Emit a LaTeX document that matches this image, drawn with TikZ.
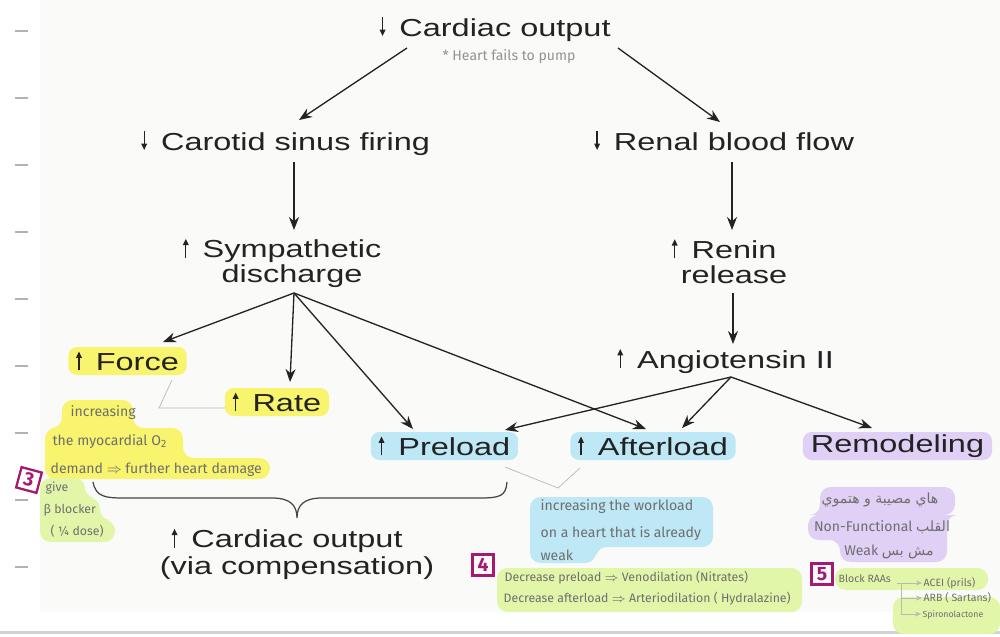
\documentclass[tikz,border=0pt]{standalone}
\usepackage{fontspec}
\usetikzlibrary{arrows.meta,positioning,calc}
\TeXXeTstate=1
\newfontfamily\bookfont{Liberation Sans}[FakeStretch=1.32]
\newfontfamily\handfont{Fira Sans}
\newfontfamily\arabicfont[Script=Arabic]{DejaVu Sans}
\definecolor{ink}{RGB}{35,35,35}
\definecolor{pencil}{RGB}{110,110,110}
\definecolor{hlyellow}{RGB}{248,244,110}
\definecolor{hlblue}{RGB}{190,232,246}
\definecolor{hlpurple}{RGB}{224,208,246}
\definecolor{hlgreen}{RGB}{226,246,170}
\definecolor{marker}{RGB}{165,25,115}
\definecolor{paper}{RGB}{250,250,249}
% small up / down arrows as printed in the chart
\newcommand\upar{\tikz[baseline=0pt,x=1cm,y=1cm]\draw[ink,line width=0.7pt,-{Triangle[length=3.6pt,width=3.2pt]}] (0pt,0pt) -- (0pt,10.8pt);}
\newcommand\dnar{\tikz[baseline=0pt,x=1cm,y=1cm]\draw[ink,line width=0.7pt,-{Triangle[length=3.6pt,width=3.2pt]}] (0pt,10.8pt) -- (0pt,0pt);}

\begin{document}
\begin{tikzpicture}[
  x=0.02cm, y=-0.02cm,
  lbl/.style={font=\bookfont\fontsize{14}{14.2}\selectfont, text=ink, inner sep=0pt, align=center},
  hl/.style={lbl, fill=#1, rounded corners=5pt, inner xsep=4.5pt, minimum height=0.56cm},
  note/.style={font=\handfont\fontsize{8}{9}\selectfont, text=pencil, inner sep=0pt},
  small/.style={note, font=\handfont\fontsize{7}{8}\selectfont},
  tiny/.style={note, font=\handfont\fontsize{6}{7}\selectfont},
  num/.style={draw=marker, text=marker, line width=1.3pt, font=\handfont\bfseries\fontsize{11}{11}\selectfont, inner sep=1pt, minimum size=0.42cm},
  blob/.style={rounded corners=6pt},
  thinline/.style={gray!55, line width=0.4pt},
  >={Stealth[length=2.6mm,width=2mm]}, line width=0.75pt
]
  \useasboundingbox (0,0) rectangle (1000,636);
  \fill[white] (0,0) rectangle (1000,636);
  \fill[paper] (40,0) rectangle (1000,612);
  \draw[gray!35, line width=0.06cm] (0,632) -- (1000,632);
  \foreach \k in {0,...,8}
    \draw[gray!60, line width=0.03cm] (15,{31+67*\k}) -- (28,{31+67*\k});

  % highlighter marks
  \fill[hlyellow, blob] (62,400) -- (133,400) -- (133,428) -- (183,428) -- (183,458) -- (270,458) -- (270,479) -- (45,479) -- (45,428) -- (62,428) -- cycle;
  \fill[hlgreen, blob] (40,478) -- (85,478) -- (85,498) -- (100,498) -- (100,520) -- (115,520) -- (115,542) -- (40,542) -- cycle;
  \fill[hlblue, blob] (530,497) -- (713,497) -- (713,547) -- (596,547) -- (596,563) -- (530,563) -- cycle;
  \fill[hlpurple, blob] (820,487) -- (955,487) -- (955,515) -- (947,515) -- (947,562) -- (840,562) -- (840,540) -- (808,540) -- (808,515) -- (820,515) -- cycle;
  \fill[hlgreen, blob] (497,568) rectangle (802,612);
  \fill[hlgreen, blob] (835,568) rectangle (988,590);
  \fill[hlgreen, blob] (893,597) rectangle (1000,634);

  % printed chart
  \node[lbl, anchor=base] (co) at (505,36) {\llap{\dnar\hspace{8pt}}Cardiac output};
  \node[lbl, anchor=base] (carotid) at (295.5,150) {\llap{\dnar\hspace{8pt}}Carotid sinus firing};
  \node[lbl, anchor=base] (renal) at (734,150) {\llap{\dnar\hspace{8pt}}Renal blood flow};
  \node[lbl] (symp) at (292,263) {\llap{\upar\hspace{8pt}}Sympathetic\\discharge};
  \node[lbl] (renin) at (734,261) {\llap{\upar\hspace{8pt}}Renin\\release};
  \node[lbl, anchor=base] (angio) at (735.5,368) {\llap{\upar\hspace{8pt}}Angiotensin II};
  \node[hl=hlyellow] (force) at (127.5,361) {\upar\hspace{8pt}Force};
  \node[hl=hlyellow] (rate) at (277,402) {\upar\hspace{8pt}Rate};
  \node[hl=hlblue] (preload) at (444.5,446) {\upar\hspace{8pt}Preload};
  \node[hl=hlblue] (afterload) at (653,446) {\upar\hspace{8pt}Afterload};
  \node[hl=hlpurple, inner xsep=4.5pt] (remod) at (897.5,446) {Remodeling};
  \node[lbl, font=\bookfont\fontsize{14}{15.4}\selectfont] (cocomp) at (297,554) {\llap{\upar\hspace{8pt}}Cardiac output\\(via compensation)};

  \draw[->, ink] ($(co.base)+(-98,12)$) -- ($(carotid.base)+(3.5,-30)$);
  \draw[->, ink] ($(co.base)+(113,12)$) -- ($(renal.base)+(-14,-28)$);
  \draw[->, ink] ($(carotid.base)+(-1.5,12)$) -- ($(symp.center)+(2,-33)$);
  \draw[->, ink] ($(renal.base)+(-2,12)$) -- ($(renin.center)+(-2,-31)$);
  \draw[->, ink] ($(renin.center)+(-1,32)$) -- ($(angio.base)+(-2.5,-24)$);

  \coordinate (sfan) at ($(symp.center)+(2,30)$);
  \draw[->, ink] (sfan) -- ($(force.center)+(35.5,-19)$);
  \draw[->, ink] (sfan) -- ($(rate.center)+(13,-20)$);
  \draw[->, ink] (sfan) -- ($(preload.center)+(-31.5,-17)$);
  \draw[->, ink] (sfan) -- ($(afterload.center)+(-7,-17)$);

  \coordinate (afan) at ($(angio.base)+(-4.5,9)$);
  \draw[->, ink] (afan) -- ($(preload.center)+(60.5,-16)$);
  \draw[->, ink] (afan) -- ($(afterload.center)+(29,-18)$);
  \draw[->, ink] (afan) -- ($(remod.center)+(-25.5,-18)$);

  \coordinate (tip) at ($(cocomp.center)+(0,-36)$);
  \draw[ink!85, line width=0.7pt] (93,482) .. controls (96,497) and (105,498) .. (125,498) -- (272,498)
     .. controls (290,498) and (297,505) .. (tip) .. controls (297,505) and (304,498) .. (322,498)
     -- (480,498) .. controls (500,498) and (506,496) .. (507,482);

  % pencil notes
  \node[note, text=pencil!75] (pump) at (509,57) {* Heart fails to pump};
  \draw[thinline] ($(force.center)+(44.5,19)$) -- ++(-13,28) -- ($(rate.center)+(-52,6)$);
  \draw[thinline] ($(preload.center)+(60.5,21)$) -- ++(53,21) -- ($(afterload.center)+(-73,22)$);

  \node[note, anchor=base west] (n3a) at (70,416) {increasing};
  \node[note, anchor=base west] (n3b) at (52,445) {the myocardial O\textsubscript{2}};
  \node[note, anchor=base west] (n3c) at (50,473) {demand $\Rightarrow$ further heart damage};
  \node[num, rotate=-15] (m3) at (29,480) {3};
  \node[small, anchor=base west] (n3d) at (45,491) {give};
  \node[small, anchor=base west] (n3e) at (43,513) {β blocker};
  \node[small, anchor=base west] (n3f) at (50,535) {( ¼ dose)};

  \node[note, anchor=base west] (n4a) at (540,510) {increasing the workload};
  \node[note, anchor=base west] (n4b) at (540,537) {on a heart that is already};
  \node[note, anchor=base west] (n4c) at (540,560) {weak};
  \node[num] (m4) at (483,565) {4};
  \node[small, anchor=base west] (n4d) at (504,581) {Decrease preload $\Rightarrow$ Venodilation (Nitrates)};
  \node[small, anchor=base west] (n4e) at (503,602) {Decrease afterload $\Rightarrow$ Arteriodilation ( Hydralazine)};

  \node[note, anchor=base] (n5a) at (880,503) {\arabicfont\beginR هاي مصيبة و هتموي\endR};
  \node[note, anchor=base] (n5b) at (882,531) {\beginR{\arabicfont القلب} \beginL Non-Functional\endL\endR};
  \node[note, anchor=base] (n5c) at (889,555) {\beginR{\arabicfont مش بس} \beginL Weak\endL\endR};
  \node[num] (m5) at (822,574) {5};
  \node[tiny, anchor=base west] (raas) at (838,582) {Block RAAs};
  \node[tiny, anchor=base west] (acei) at (923,586) {ACEI (prils)};
  \node[tiny, anchor=base west] (arb) at (923,601) {ARB ( Sartans)};
  \node[tiny, font=\handfont\fontsize{5}{6}\selectfont, anchor=base west] (spiro) at (922,617) {Spironolactone};
  \draw[thinline, -{Stealth[length=1.2mm,width=1mm]}] ($(raas.base east)+(5,1)$) -- ($(acei.base west)+(-1,-3)$);
  \draw[thinline, -{Stealth[length=1.2mm,width=1mm]}] ($(raas.base east)+(10,1)$) |- ($(spiro.base west)+(-1,-3)$);
  \draw[thinline, -{Stealth[length=1.2mm,width=1mm]}] ($(raas.base east)+(10,16)$) -- ($(arb.base west)+(-1,-3)$);
\end{tikzpicture}
\end{document}
